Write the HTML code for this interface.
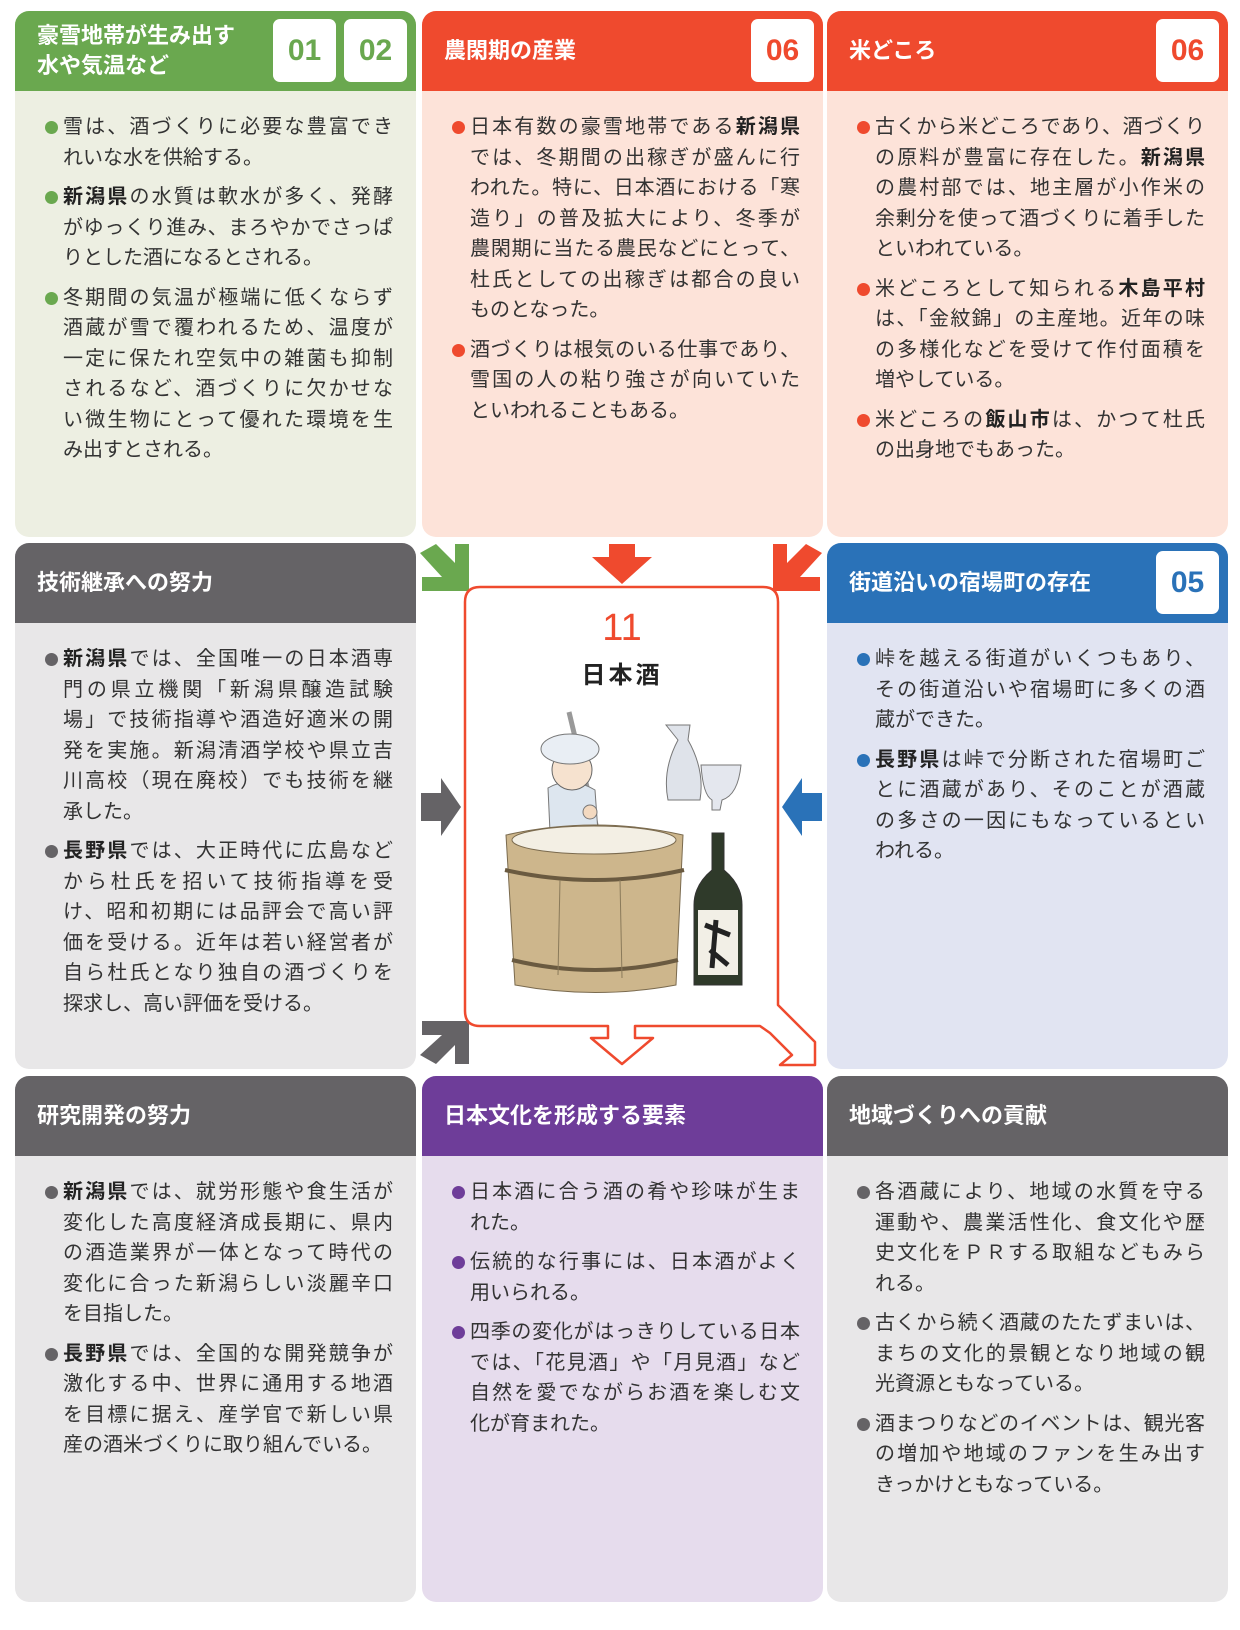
<!DOCTYPE html>
<html><head><meta charset="utf-8">
<style>
*{margin:0;padding:0;box-sizing:border-box}
body{width:1240px;height:1630px;background:#fff;position:relative;overflow:hidden;font-family:"Liberation Sans","Noto Sans CJK JP",sans-serif}
.box{position:absolute;width:401px;height:526px;border-radius:14px;overflow:hidden}
.hd{height:80px;color:#fff;font-weight:bold;font-size:22px;display:flex;align-items:center;padding-left:22px;position:relative;line-height:30px}
.bd{padding:21px 0 0 30px;font-size:20px;color:#333;line-height:30.5px}
.p{position:relative;padding-left:18px;margin-bottom:9px;width:348px}
.p::before{content:"";position:absolute;left:0;top:9px;width:13px;height:13px;border-radius:50%;background:var(--c)}
.l{display:block;white-space:nowrap;text-align:justify;text-align-last:justify}
.l.e{text-align-last:left}
b{font-weight:bold;color:#222}
.bg{position:absolute;top:8px;width:63px;height:63px;background:#fff;border-radius:7px;font-family:"Liberation Sans",sans-serif;font-size:30px;font-weight:bold;display:flex;align-items:center;justify-content:center}
</style></head><body>

<div class="box" style="left:15px;top:11px;background:#edefe2;--c:#6aa84f">
 <div class="hd" style="background:#6aa84f">豪雪地帯が生み出す<br>水や気温など
  <div class="bg" style="left:258px;color:#6aa84f">01</div><div class="bg" style="left:329px;color:#6aa84f">02</div></div>
 <div class="bd">
  <div class="p"><span class="l">雪は、酒づくりに必要な豊富でき</span><span class="l e">れいな水を供給する。</span></div>
  <div class="p"><span class="l"><b>新潟県</b>の水質は軟水が多く、発酵</span><span class="l">がゆっくり進み、まろやかでさっぱ</span><span class="l e">りとした酒になるとされる。</span></div>
  <div class="p"><span class="l">冬期間の気温が極端に低くならず</span><span class="l">酒蔵が雪で覆われるため、温度が</span><span class="l">一定に保たれ空気中の雑菌も抑制</span><span class="l">されるなど、酒づくりに欠かせな</span><span class="l">い微生物にとって優れた環境を生</span><span class="l e">み出すとされる。</span></div>
 </div>
</div>

<div class="box" style="left:422px;top:11px;background:#fde3d9;--c:#ef4a2e">
 <div class="hd" style="background:#ef4a2e">農閑期の産業<div class="bg" style="left:329px;color:#ef4a2e">06</div></div>
 <div class="bd">
  <div class="p"><span class="l">日本有数の豪雪地帯である<b>新潟県</b></span><span class="l">では、冬期間の出稼ぎが盛んに行</span><span class="l">われた。特に、日本酒における「寒</span><span class="l">造り」の普及拡大により、冬季が</span><span class="l">農閑期に当たる農民などにとって、</span><span class="l">杜氏としての出稼ぎは都合の良い</span><span class="l e">ものとなった。</span></div>
  <div class="p"><span class="l">酒づくりは根気のいる仕事であり、</span><span class="l">雪国の人の粘り強さが向いていた</span><span class="l e">といわれることもある。</span></div>
 </div>
</div>

<div class="box" style="left:827px;top:11px;background:#fde3d9;--c:#ef4a2e">
 <div class="hd" style="background:#ef4a2e">米どころ<div class="bg" style="left:329px;color:#ef4a2e">06</div></div>
 <div class="bd">
  <div class="p"><span class="l">古くから米どころであり、酒づくり</span><span class="l">の原料が豊富に存在した。<b>新潟県</b></span><span class="l">の農村部では、地主層が小作米の</span><span class="l">余剰分を使って酒づくりに着手した</span><span class="l e">といわれている。</span></div>
  <div class="p"><span class="l">米どころとして知られる<b>木島平村</b></span><span class="l">は、「金紋錦」の主産地。近年の味</span><span class="l">の多様化などを受けて作付面積を</span><span class="l e">増やしている。</span></div>
  <div class="p"><span class="l">米どころの<b>飯山市</b>は、かつて杜氏</span><span class="l e">の出身地でもあった。</span></div>
 </div>
</div>

<div class="box" style="left:15px;top:543px;background:#e8e7e8;--c:#656366">
 <div class="hd" style="background:#656366">技術継承への努力</div>
 <div class="bd">
  <div class="p"><span class="l"><b>新潟県</b>では、全国唯一の日本酒専</span><span class="l">門の県立機関「新潟県醸造試験</span><span class="l">場」で技術指導や酒造好適米の開</span><span class="l">発を実施。新潟清酒学校や県立吉</span><span class="l">川高校（現在廃校）でも技術を継</span><span class="l e">承した。</span></div>
  <div class="p"><span class="l"><b>長野県</b>では、大正時代に広島など</span><span class="l">から杜氏を招いて技術指導を受</span><span class="l">け、昭和初期には品評会で高い評</span><span class="l">価を受ける。近年は若い経営者が</span><span class="l">自ら杜氏となり独自の酒づくりを</span><span class="l e">探求し、高い評価を受ける。</span></div>
 </div>
</div>

<div class="box" style="left:827px;top:543px;background:#e1e4f2;--c:#2a72b8">
 <div class="hd" style="background:#2a72b8">街道沿いの宿場町の存在<div class="bg" style="left:329px;color:#2a72b8">05</div></div>
 <div class="bd">
  <div class="p"><span class="l">峠を越える街道がいくつもあり、</span><span class="l">その街道沿いや宿場町に多くの酒</span><span class="l e">蔵ができた。</span></div>
  <div class="p"><span class="l"><b>長野県</b>は峠で分断された宿場町ご</span><span class="l">とに酒蔵があり、そのことが酒蔵</span><span class="l">の多さの一因にもなっているとい</span><span class="l e">われる。</span></div>
 </div>
</div>

<div class="box" style="left:15px;top:1076px;background:#e8e7e8;--c:#656366">
 <div class="hd" style="background:#656366">研究開発の努力</div>
 <div class="bd">
  <div class="p"><span class="l"><b>新潟県</b>では、就労形態や食生活が</span><span class="l">変化した高度経済成長期に、県内</span><span class="l">の酒造業界が一体となって時代の</span><span class="l">変化に合った新潟らしい淡麗辛口</span><span class="l e">を目指した。</span></div>
  <div class="p"><span class="l"><b>長野県</b>では、全国的な開発競争が</span><span class="l">激化する中、世界に通用する地酒</span><span class="l">を目標に据え、産学官で新しい県</span><span class="l e">産の酒米づくりに取り組んでいる。</span></div>
 </div>
</div>

<div class="box" style="left:422px;top:1076px;background:#e6dced;--c:#6e3d99">
 <div class="hd" style="background:#6e3d99">日本文化を形成する要素</div>
 <div class="bd">
  <div class="p"><span class="l">日本酒に合う酒の肴や珍味が生ま</span><span class="l e">れた。</span></div>
  <div class="p"><span class="l">伝統的な行事には、日本酒がよく</span><span class="l e">用いられる。</span></div>
  <div class="p"><span class="l">四季の変化がはっきりしている日本</span><span class="l">では、「花見酒」や「月見酒」など</span><span class="l">自然を愛でながらお酒を楽しむ文</span><span class="l e">化が育まれた。</span></div>
 </div>
</div>

<div class="box" style="left:827px;top:1076px;background:#e8e7e8;--c:#656366">
 <div class="hd" style="background:#656366">地域づくりへの貢献</div>
 <div class="bd">
  <div class="p"><span class="l">各酒蔵により、地域の水質を守る</span><span class="l">運動や、農業活性化、食文化や歴</span><span class="l">史文化をＰＲする取組などもみら</span><span class="l e">れる。</span></div>
  <div class="p"><span class="l">古くから続く酒蔵のたたずまいは、</span><span class="l">まちの文化的景観となり地域の観</span><span class="l e">光資源ともなっている。</span></div>
  <div class="p"><span class="l">酒まつりなどのイベントは、観光客</span><span class="l">の増加や地域のファンを生み出す</span><span class="l e">きっかけともなっている。</span></div>
 </div>
</div>

<svg width="1240" height="1630" style="position:absolute;left:0;top:0" xmlns="http://www.w3.org/2000/svg">
 <polygon points="420,553 436,544 455,563 455,544 469,544 469,591 422,591 422,577 442,577" fill="#6aa84f"/>
 <polygon points="609,544 635,544 635,557 652,557 622,584 592,557 609,557" fill="#ef4a2e"/>
 <polygon points="822,553 806,544 787,563 787,544 773,544 773,591 820,591 820,577 800,577" fill="#ef4a2e"/>
 <polygon points="421,793 441,793 441,778 461,807 441,836 441,821 421,821" fill="#656366"/>
 <polygon points="822,793 802,793 802,778 782,807 802,836 802,821 822,821" fill="#2a72b8"/>
 <polygon points="420,1055 436,1064 455,1045 455,1064 469,1064 469,1021 422,1021 422,1035 442,1035" fill="#656366"/>
 <path d="M608,1026 L480,1026 Q465,1026 465,1011 L465,602 Q465,587 480,587 L763,587 Q778,587 778,602 L778,1005 L815,1042 L815,1065 L780,1065 L792,1055 L770,1033 L760,1026 L635,1026 L635,1038 L653,1038 L622,1064 L591,1038 L608,1038 Z" fill="none" stroke="#ef4a2e" stroke-width="2.5" stroke-linejoin="round"/>
 <text x="622" y="640" text-anchor="middle" font-family="Liberation Sans,sans-serif" font-size="38" fill="#ef4a2e">11</text>
 <text x="622" y="683" text-anchor="middle" font-family="Liberation Sans,Noto Sans CJK JP,sans-serif" font-size="24" font-weight="bold" fill="#222" letter-spacing="3">日本酒</text>
 <line x1="569" y1="712" x2="604" y2="858" stroke="#999" stroke-width="5"/>
 <path d="M548,788 Q570,775 595,790 L598,832 L550,832 Z" fill="#dde6ef" stroke="#777"/>
 <ellipse cx="572" cy="770" rx="20" ry="20" fill="#f6e2cf" stroke="#666"/>
 <ellipse cx="570" cy="749" rx="29" ry="15" fill="#e9eef4" stroke="#777"/>
 <circle cx="590" cy="812" r="7" fill="#f3d9c0" stroke="#777"/>
 <path d="M506,835 Q595,815 683,835 L676,985 Q595,1000 515,985 Z" fill="#cdb68c" stroke="#7a6a4e"/>
 <ellipse cx="594" cy="840" rx="82" ry="14" fill="#f3efe4" stroke="#7a6a4e"/>
 <path d="M505,870 Q595,890 684,870" fill="none" stroke="#6a5a40" stroke-width="4"/>
 <path d="M512,960 Q595,980 678,960" fill="none" stroke="#6a5a40" stroke-width="4"/>
 <line x1="560" y1="880" x2="558" y2="975" stroke="#8a7a5a"/><line x1="620" y1="880" x2="622" y2="978" stroke="#8a7a5a"/>
 <path d="M666,725 L690,725 L688,740 Q705,770 700,800 L668,800 Q662,770 678,740 Z" fill="#dfe3ea" stroke="#777"/>
 <path d="M701,765 L741,765 Q738,795 722,800 L720,810 L712,810 L712,800 Q703,795 701,765 Z" fill="#e4e7ee" stroke="#777"/>
 <path d="M712,833 L724,833 L724,870 Q742,885 742,905 L742,985 L694,985 L694,905 Q694,885 712,870 Z" fill="#2f3a2a" stroke="#333"/>
 <rect x="698" y="910" width="40" height="65" fill="#f2efe6"/>
 <path d="M705,925 L730,935 M710,950 L728,965 M716,920 L712,968" stroke="#222" stroke-width="5"/>
</svg>
</body></html>
